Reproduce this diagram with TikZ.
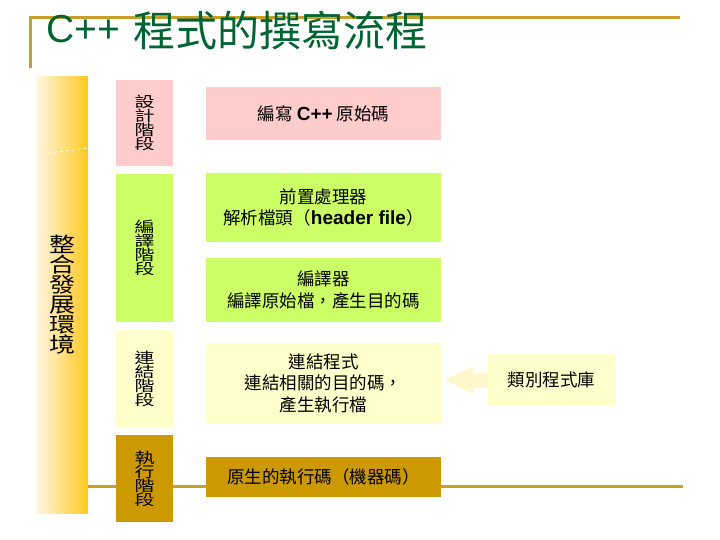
\documentclass[tikz,border=0pt]{standalone}
\usepackage{fontspec}
\usepackage{graphicx}
\setmainfont{Noto Sans CJK TC}
\newfontfamily\arialf{Liberation Sans}
\usetikzlibrary{arrows.meta}
\definecolor{gold}{RGB}{200,160,40}
\definecolor{titlegreen}{RGB}{0,100,50}
\definecolor{pinkbox}{RGB}{255,204,204}
\definecolor{greenbox}{RGB}{204,255,102}
\definecolor{ylwbox}{RGB}{255,255,204}
\definecolor{execbox}{RGB}{204,153,0}
\definecolor{arrowylw}{RGB}{255,248,204}
\definecolor{colL}{RGB}{255,247,228}
\definecolor{colR}{RGB}{255,200,30}
\newcommand{\vsq}[1]{\scalebox{1}[0.8]{#1}}
\newcommand{\vsqs}[1]{\scalebox{1}[0.74]{#1}}
\newcommand{\lat}[1]{{\arialf\bfseries\fontsize{19}{19}\selectfont #1}}
\begin{document}
\begin{tikzpicture}[x=1pt,y=-1pt,
  goldline/.style={draw=gold,line width=3pt},
  stagebox/.style={minimum width=57pt,inner sep=0pt,align=center,
    font=\fontsize{20}{14}\selectfont},
  stepbox/.style={minimum width=235pt,inner sep=0pt,align=center,
    font=\fontsize{17.5}{21.5}\selectfont}]
\useasboundingbox (0,0) rectangle (720,540);
% integrated environment column
\node[minimum width=52pt,minimum height=436pt,inner sep=0pt,
  left color=colL,right color=colR,draw=none,align=center,
  font=\fontsize{26}{20}\selectfont] (env) at (62,295)
  {\vsq{整}\\\vsq{合}\\\vsq{發}\\\vsq{展}\\\vsq{環}\\\vsq{境}};
\draw[white,dashed,line width=0.8pt] (36,155) -- (88,148);
% bottom line
\coordinate (bl) at (88,486);
\coordinate (br) at (683,486);
\draw[goldline] (bl) -- (br);
% stage boxes
\node[stagebox,fill=pinkbox,minimum height=86pt] (s1) at (144.5,123)
  {\vsqs{設}\\\vsqs{計}\\\vsqs{階}\\\vsqs{段}};
\node[stagebox,fill=greenbox,minimum height=148pt] (s2) at (144.5,248)
  {\vsqs{編}\\\vsqs{譯}\\\vsqs{階}\\\vsqs{段}};
\node[stagebox,fill=ylwbox,minimum height=97pt] (s3) at (144.5,378.5)
  {\vsqs{連}\\\vsqs{結}\\\vsqs{階}\\\vsqs{段}};
\node[stagebox,fill=execbox,minimum height=87pt] (s4) at (144.5,478.5)
  {\vsqs{執}\\\vsqs{行}\\\vsqs{階}\\\vsqs{段}};
% step boxes
\node[stepbox,fill=pinkbox,minimum height=53pt] (write) at (323.5,113.5)
  {編寫 \lat{C++} 原始碼};
\node[stepbox,fill=greenbox,minimum height=69pt] (pre) at (323.5,207.5)
  {前置處理器\\解析檔頭（\lat{header file}）};
\node[stepbox,fill=greenbox,minimum height=64pt] (comp) at (323.5,290)
  {編譯器\\編譯原始檔，產生目的碼};
\node[stepbox,fill=ylwbox,minimum height=80pt] (link) at (323.5,383)
  {連結程式\\連結相關的目的碼，\\產生執行檔};
\node[stepbox,fill=execbox,minimum height=40pt] (native) at (323.5,477)
  {原生的執行碼（機器碼）};
% library
\node[fill=ylwbox,minimum width=127pt,minimum height=52pt,inner sep=0pt,
  font=\fontsize{17.5}{21}\selectfont] (lib) at (551.5,380) {類別程式庫};
\coordinate (tip) at (445,380);
\draw[arrowylw,line width=15pt,-{Triangle[length=28pt,width=26pt]}] (lib.west) -- (tip);
% title lines
\coordinate (tl) at (30,18);
\coordinate (tr) at (678,18);
\coordinate (tb) at (30,67);
\draw[goldline,line cap=rect] (tb) -- (tl) -- (tr);
\node[anchor=base west,inner sep=0pt,text=titlegreen,
  font=\arialf\fontsize{39}{39}\selectfont] (title) at (46,43)
  {C++\hspace{14pt}\raisebox{-4pt}{\fontspec{Noto Sans CJK TC}\fontsize{42}{42}\selectfont 程式的撰寫流程}};
\end{tikzpicture}
\end{document}
